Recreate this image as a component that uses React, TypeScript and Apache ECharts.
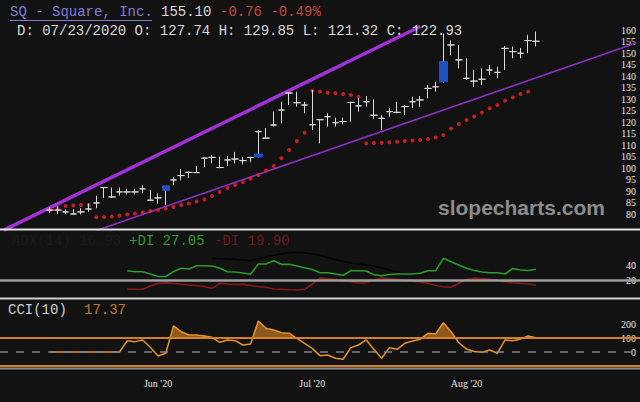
import React, { useEffect, useRef } from "react";
import * as echarts from "echarts";

// ---------- layout of the category axis ----------
const PAD = 6; // empty slots before the first bar
const SLOTS = 83; // total slots across the width

// ---------- price bars (index 0 = first bar) ----------
const barHigh = [
  83, 83.5, 82, 82, 82.5, 84.5, 88, 91.7, 91.5, 91.5,
  91, 91, 92.5, 90.4, 89, 92, 96, 99.6, 98.5, 100.9,
  104.5, 105.6, 104.9, 105.2, 107, 104.8, 104.8, 116.5, 117.4, 124.5,
  128.8, 133, 133.2, 128.8, 133.9, 121.2, 123.8, 121.9, 121.9, 128.8,
  130.4, 131.3, 129.85, 123, 126, 128.8, 127.4, 131, 131.3, 136.1,
  137.5, 158.5, 155.5, 153.5, 147.7, 142.6, 143.3, 144.8, 143.9, 153,
  152.8, 152.2, 157.8, 159.3,
];
const barLow = [
  80.5, 80, 80, 79.8, 79.8, 81, 82.5, 87, 87, 88,
  88.5, 88.5, 89, 85.7, 84.5, 84, 92.6, 94.8, 95.7, 97.8,
  100.3, 102, 99.9, 100.9, 102, 101.5, 102.6, 104.5, 112.6, 118,
  119.4, 127.4, 126.7, 123.8, 116.5, 110.7, 118, 118, 119, 120.2,
  124.5, 126.7, 121.32, 116.5, 122.3, 123.8, 123, 126, 126.5, 130.3,
  133.2, 137, 149, 143.3, 138.3, 135.3, 136.1, 140.4, 139, 142.6,
  147.7, 147.7, 149.9, 152.8,
];
const barClose = [
  81.7, 81.7, 80.9, 80, 80.9, 82.2, 84.8, 91.5, 87.4, 89.6,
  89.6, 89.6, 90.9, 86, 87, 92, 94.8, 96.7, 98.1, 98,
  104.3, 104.6, 100.2, 103.5, 103.9, 103.2, 104.6, 115.8, 113, 118.7,
  125.2, 132.6, 128.4, 127.4, 118.8, 121, 122.3, 119.7, 120.2, 128.5,
  127, 128.8, 122.93, 121.6, 124.5, 124.2, 126.7, 128.8, 129.6, 134.6,
  135.3, 146, 153.5, 147, 139, 137.8, 138.6, 142.6, 141.6, 152,
  150.6, 149.9, 155.4, 155.1,
];
// bars that carry a blue body
const blueBarIndex = [15, 27, 51];
const blueBodyLow = [90.3, 104.8, 137.5];
const blueBodyHigh = [92.0, 106.1, 146.2];

// red stop dots (null = no dot)
const sarDots: (number | null)[] = [
  81.7, 82.2, 83.5, 83.7, 83.9, 83.9,
  78.7, 78.7, 78.9, 79.3, 79.8, 80.2, 80.7, 81.3, 81.7, 82.4,
  83.0, 83.9, 84.6, 85.4, 86.3, 87.8, 89.6, 91.3, 92.6, 93.9,
  95.4, 97.0, 98.9, 100.9, 104.3, 107.8, 111.7, 115.3,
  133.6, 133.2, 132.7, 132.5, 132.2, 131.7, 131.0,
  110.7, 110.9, 111.0, 111.2, 111.4, 111.7, 112.0, 112.2, 112.6, 113.3, 114.3,
  117.2, 119.1, 120.9, 122.4, 124.1, 126.0, 127.4, 129.3, 130.7, 132.2, 133.2, null,
];

// ---------- ADX panel ----------
const diStart = 10;
const plusDI = [
  32.4, 31.1, 31.1, 28.0, 24.7, 24.7, 31.1, 35.6, 34.7, 39.1,
  39.1, 38.7, 35.6, 31.1, 30.7, 29.3, 27.6, 41.3, 41.3, 45.7,
  40.9, 40.9, 38.7, 36.4, 34.0, 29.7, 29.7, 28.0, 26.3, 32.4,
  32.3, 32.0, 27.05, 25.7, 27.3, 28.0, 28.0, 28.0, 28.9, 32.4,
  32.4, 48.9, 44.4, 40.0, 35.6, 32.7, 30.7, 29.7, 29.7, 28.0,
  35.3, 33.3, 32.7, 34.3,
];
const minusDI = [
  7.6, 7.6, 7.6, 12.0, 15.6, 16.4, 15.3, 14.3, 13.3, 12.7,
  11.3, 8.9, 15.6, 14.7, 14.0, 14.3, 12.7, 11.3, 10.3, 8.0,
  7.6, 7.1, 6.7, 7.6, 14.7, 22.7, 21.7, 20.7, 19.1, 17.7,
  16.0, 16.7, 19.9, 22.7, 21.7, 20.7, 19.3, 18.4, 17.3, 15.6,
  12.7, 11.1, 10.3, 15.6, 20.7, 22.3, 22.0, 20.9, 19.3, 17.7,
  16.4, 15.6, 14.7, 13.3,
];
const adxStart = 21;
const adxLine = [
  48.9, 48.7, 48.0, 47.3, 46.7, 46.0, 48.0, 50.7, 52.7, 54.7,
  56.0, 56.7, 56.0, 54.7, 52.7, 50.0, 47.3, 44.7, 42.7, 41.3,
  40.0, 38.7, 36.0, 33.3, 30.7, 28.7, 27.3, 26.7, 28.0,
];
const adxLevel = 20;

// ---------- CCI panel ----------
const cci = [
  0, 0, 0, 0, 0, 0, 0, 0, 0, 0,
  80, 74, 86, 34, -29, -9, 186, 145, 121, 121,
  114, 105, 69, 86, 81, 50, 57, 221, 169, 157,
  138, 134, 98, 62, 26, -26, -21, -45, -52, 31,
  50, 86, 17.37, -45, 31, 19, 62, 79, 91, 134,
  129, 209, 145, 66, 21, 4, -2, 14, -9, 86,
  81, 93, 114, 102,
];
const cciUpper = 100;
const cciLower = -100;

// ---------- axes ----------
const priceAxis = { min: 75, max: 165, step: 5, firstLabel: 80, lastLabel: 160 };
const adxAxis = { min: 0, max: 80, step: 20 };
const adxTickLabels = [20, 40];
const cciAxis = { min: -100, max: 300, step: 100 };
const cciTickLabels = [0, 100, 200];
const monthLabels = ["Jun '20", "Jul '20", "Aug '20"];
const monthLabelBar = [14, 34, 54];

// trend lines: [bar index, price]
const upperTrend = [[-6, 73.0], [48, 161.5]];
const lowerTrend = [[6, 72.8], [76, 154.3]];

const MONO = '"Liberation Mono", "DejaVu Sans Mono", monospace';
const SERIF = '"Liberation Serif", "DejaVu Serif", serif';

export default function App() {
  const ref = useRef<HTMLDivElement>(null);

  useEffect(() => {
    if (!ref.current) return;
    const chart = echarts.init(ref.current, null, { renderer: "svg", width: 640, height: 402 });

    const slots = Array.from({ length: SLOTS }, (_, i) => String(i));
    const monthSlots = monthLabelBar.map((b) => b + PAD);

    const xBase = (gridIndex: number, labels: boolean) => ({
      type: "category",
      gridIndex,
      data: slots,
      boundaryGap: true,
      axisLine: { show: false },
      axisTick: { show: false },
      splitLine: { show: false },
      axisLabel: labels
        ? {
            show: true,
            interval: (index: number) => monthSlots.includes(index),
            formatter: (_v: string, index: number) => {
              const k = monthSlots.indexOf(index);
              return k >= 0 ? monthLabels[k] : "";
            },
            color: "#e2e2e2",
            fontFamily: SERIF,
            fontSize: 10,
            margin: 12,
          }
        : { show: false },
    });

    const yBase = (gridIndex: number, a: { min: number; max: number; step: number }, show: (v: number) => boolean) => ({
      type: "value",
      gridIndex,
      position: "right",
      min: a.min,
      max: a.max,
      interval: a.step,
      axisLine: { show: false },
      axisTick: { show: false },
      splitLine: { show: false },
      axisLabel: {
        inside: true,
        margin: 4,
        color: "#e6e6e6",
        fontFamily: SERIF,
        fontSize: 10,
        formatter: (v: number) => (show(v) ? String(v) : ""),
      },
    });

    const candleData = barClose.map((c, i) => [PAD + i, c, c, barLow[i], barHigh[i]]);
    const blueData = blueBarIndex.map((b, k) => [PAD + b, blueBodyLow[k], blueBodyHigh[k], blueBodyLow[k], blueBodyHigh[k]]);
    const sarData = sarDots
      .map((v, i) => (v == null ? null : [PAD + i, v]))
      .filter((d) => d !== null);

    const option: any = {
      animation: false,
      backgroundColor: "#121212",
      grid: [
        { left: 0, right: 0, top: 18.5, height: 207 },
        { left: 0, right: 0, top: 235, height: 60 },
        { left: 0, right: 0, top: 310, height: 56 },
      ],
      xAxis: [xBase(0, false), xBase(1, false), xBase(2, true)],
      yAxis: [
        yBase(0, priceAxis, (v) => v >= priceAxis.firstLabel && v <= priceAxis.lastLabel),
        yBase(1, adxAxis, (v) => adxTickLabels.includes(v)),
        yBase(2, cciAxis, (v) => cciTickLabels.includes(v)),
      ],
      series: [
        {
          type: "line",
          xAxisIndex: 0,
          yAxisIndex: 0,
          data: upperTrend.map(([b, p]) => [PAD + b, p]),
          showSymbol: false,
          clip: false,
          silent: true,
          lineStyle: { color: "#a032d8", width: 3.5 },
          z: 1,
        },
        {
          type: "line",
          xAxisIndex: 0,
          yAxisIndex: 0,
          data: lowerTrend.map(([b, p]) => [PAD + b, p]),
          showSymbol: false,
          clip: false,
          silent: true,
          lineStyle: { color: "#8a2ec4", width: 1.6 },
          z: 1,
        },
        {
          type: "scatter",
          xAxisIndex: 0,
          yAxisIndex: 0,
          data: sarData,
          symbol: "circle",
          symbolSize: 4,
          itemStyle: { color: "#f2261f" },
          silent: true,
          z: 2,
        },
        {
          type: "candlestick",
          xAxisIndex: 0,
          yAxisIndex: 0,
          data: candleData,
          encode: { x: 0, y: [1, 2, 3, 4] },
          barWidth: 7,
          itemStyle: {
            color: "#dcdcdc",
            color0: "#dcdcdc",
            borderColor: "#dcdcdc",
            borderColor0: "#dcdcdc",
            borderColorDoji: "#dcdcdc",
            borderWidth: 1,
          },
          silent: true,
          z: 3,
        },
        {
          type: "candlestick",
          xAxisIndex: 0,
          yAxisIndex: 0,
          data: blueData,
          encode: { x: 0, y: [1, 2, 3, 4] },
          barWidth: 8,
          itemStyle: {
            color: "#1d50c4",
            color0: "#1d50c4",
            borderColor: "#1d50c4",
            borderColor0: "#1d50c4",
            borderWidth: 1,
          },
          silent: true,
          z: 4,
        },
        // ADX panel
        {
          type: "line",
          xAxisIndex: 1,
          yAxisIndex: 1,
          data: adxLine.map((v, i) => [PAD + adxStart + i, v]),
          showSymbol: false,
          silent: true,
          lineStyle: { color: "#050505", width: 1.5 },
        },
        {
          type: "line",
          xAxisIndex: 1,
          yAxisIndex: 1,
          data: minusDI.map((v, i) => [PAD + diStart + i, v]),
          showSymbol: false,
          silent: true,
          lineStyle: { color: "#8a1818", width: 1.6 },
        },
        {
          type: "line",
          xAxisIndex: 1,
          yAxisIndex: 1,
          data: plusDI.map((v, i) => [PAD + diStart + i, v]),
          showSymbol: false,
          silent: true,
          lineStyle: { color: "#2c9a2c", width: 1.6 },
          markLine: {
            silent: true,
            symbol: "none",
            label: { show: false },
            lineStyle: { color: "#9e9e9e", width: 2.5, type: "solid" },
            data: [{ yAxis: adxLevel }],
          },
        },
        // CCI panel
        {
          type: "custom",
          xAxisIndex: 2,
          yAxisIndex: 2,
          data: [[PAD, 0]],
          silent: true,
          z: 1,
          renderItem: (_params: any, api: any) => {
            const base = cciUpper;
            const pts = cci.map((v, i) => ({ v, p: api.coord([PAD + i, v]) }));
            const yb = api.coord([PAD, base])[1];
            const polys: number[][][] = [];
            let cur: number[][] | null = null;
            for (let i = 0; i < pts.length; i++) {
              const { v, p } = pts[i];
              if (i > 0) {
                const prev = pts[i - 1];
                const up = prev.v <= base && v > base;
                const down = prev.v > base && v <= base;
                if (up || down) {
                  const t = (base - prev.v) / (v - prev.v);
                  const x = prev.p[0] + t * (p[0] - prev.p[0]);
                  if (up) cur = [[x, yb]];
                  else if (cur) {
                    cur.push([x, yb]);
                    polys.push(cur);
                    cur = null;
                  }
                }
              }
              if (v > base) {
                if (!cur) cur = [[p[0], yb]];
                cur.push([p[0], p[1]]);
              }
            }
            if (cur) {
              cur.push([cur[cur.length - 1][0], yb]);
              polys.push(cur);
            }
            return {
              type: "group",
              children: polys.map((points) => ({
                type: "polygon",
                shape: { points },
                style: { fill: "rgba(196,118,34,0.7)" },
              })),
            };
          },
        },
        {
          type: "line",
          xAxisIndex: 2,
          yAxisIndex: 2,
          data: cci.map((v, i) => [PAD + i, v]),
          showSymbol: false,
          silent: true,
          z: 3,
          lineStyle: { color: "#e3922c", width: 1.5 },
          markLine: {
            silent: true,
            symbol: "none",
            label: { show: false },
            data: [
              { yAxis: cciUpper, lineStyle: { color: "#d47f22", width: 2, type: "solid" } },
              { yAxis: 0, lineStyle: { color: "#858585", width: 1.5, type: [8, 8] } },
              { yAxis: cciLower, lineStyle: { color: "#d47f22", width: 2, type: "solid" } },
            ],
          },
        },
      ],
      graphic: [
        // panel separators
        { type: "line", shape: { x1: 0, y1: 229.5, x2: 640, y2: 229.5 }, style: { stroke: "#e4e4e4", lineWidth: 2 }, z: 50 },
        { type: "line", shape: { x1: 0, y1: 298.5, x2: 640, y2: 298.5 }, style: { stroke: "#cfcfcf", lineWidth: 2 }, z: 50 },
        { type: "line", shape: { x1: 0, y1: 368.5, x2: 640, y2: 368.5 }, style: { stroke: "#8a8a8a", lineWidth: 2 }, z: 50 },
        // watermark
        {
          type: "text",
          x: 438,
          y: 207,
          z: 0,
          style: {
            text: "slopecharts.com",
            font: 'bold 21px "Liberation Sans", Arial, sans-serif',
            fill: "#8c8c8c",
            textVerticalAlign: "middle",
          },
        },
        // header
        {
          type: "text",
          x: 10,
          y: 12,
          z: 60,
          style: { text: "SQ - Square, Inc.", font: `14px ${MONO}`, fill: "#7d7dd2", textVerticalAlign: "middle" },
        },
        { type: "line", shape: { x1: 10, y1: 20.5, x2: 152, y2: 20.5 }, style: { stroke: "#7d7dd2", lineWidth: 1 }, z: 60 },
        {
          type: "text",
          x: 161,
          y: 12,
          z: 60,
          style: { text: "155.10", font: `14px ${MONO}`, fill: "#dadada", textVerticalAlign: "middle" },
        },
        {
          type: "text",
          x: 220,
          y: 12,
          z: 60,
          style: { text: "-0.76 -0.49%", font: `14px ${MONO}`, fill: "#c4473b", textVerticalAlign: "middle" },
        },
        {
          type: "text",
          x: 17,
          y: 31,
          z: 60,
          style: {
            text: "D: 07/23/2020 O: 127.74 H: 129.85 L: 121.32 C: 122.93",
            font: `14px ${MONO}`,
            fill: "#d8d8d8",
            textVerticalAlign: "middle",
          },
        },
        // ADX header
        {
          type: "text",
          x: 12,
          y: 241,
          z: 60,
          style: { text: "ADX(14) 16.93", font: `14px ${MONO}`, fill: "#191919", textVerticalAlign: "middle" },
        },
        {
          type: "text",
          x: 129,
          y: 241,
          z: 60,
          style: { text: "+DI 27.05", font: `14px ${MONO}`, fill: "#2f9a2f", textVerticalAlign: "middle" },
        },
        {
          type: "text",
          x: 214,
          y: 241,
          z: 60,
          style: { text: "-DI 19.90", font: `14px ${MONO}`, fill: "#6e1a1a", textVerticalAlign: "middle" },
        },
        // CCI header
        {
          type: "text",
          x: 8,
          y: 310,
          z: 60,
          style: { text: "CCI(10)", font: `14px ${MONO}`, fill: "#cfcfcf", textVerticalAlign: "middle" },
        },
        {
          type: "text",
          x: 84,
          y: 310,
          z: 60,
          style: { text: "17.37", font: `14px ${MONO}`, fill: "#c07a28", textVerticalAlign: "middle" },
        },
      ],
    };

    chart.setOption(option);
    return () => chart.dispose();
  }, []);

  return (
    <div
      ref={ref}
      style={{ position: "fixed", left: 0, top: 0, width: 640, height: 402, background: "#121212" }}
    />
  );
}
